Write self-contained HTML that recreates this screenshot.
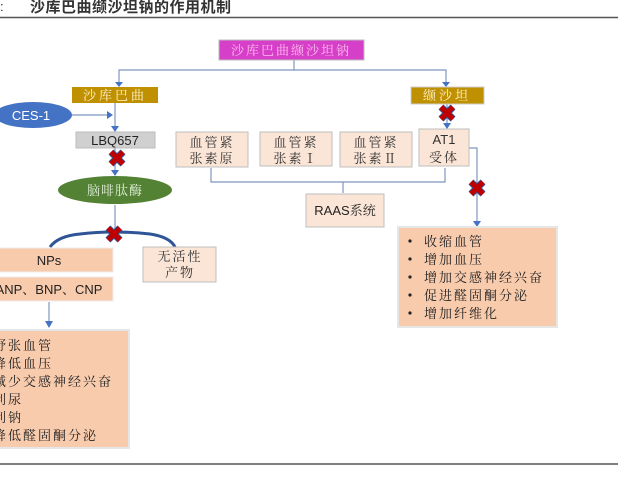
<!DOCTYPE html>
<html><head><meta charset="utf-8"><style>
html,body{margin:0;padding:0;background:#fff;}
svg{display:block;}
text{font-family:"Liberation Sans","Noto Serif CJK SC","Noto Sans CJK SC",sans-serif;}
.s{font-family:"Noto Serif CJK SC","Liberation Sans",serif;}
.t{font-family:"Noto Sans CJK SC",sans-serif;font-weight:bold;}
</style></head><body>
<svg width="618" height="480" viewBox="0 0 618 480" xmlns="http://www.w3.org/2000/svg">
<defs>
<g id="x"><path d="M-6,-6 L6,6 M6,-6 L-6,6" stroke="#2f4f8f" stroke-width="7"/><path d="M-6,-6 L6,6 M6,-6 L-6,6" stroke="#c00000" stroke-width="5"/></g>
</defs>
<text x="0" y="11" font-size="13" fill="#333">:</text>
<text class="t" x="30" y="12" font-size="15" fill="#333" letter-spacing="0.5">沙库巴曲缬沙坦钠的作用机制</text>
<line x1="0" y1="17.5" x2="618" y2="17.5" stroke="#555" stroke-width="1.5"/>
<line x1="0" y1="464" x2="618" y2="464" stroke="#555" stroke-width="1.5"/>

<g stroke="#7f96c0" stroke-width="1.2" fill="none">
<polyline points="294,60 294,70 119,70 119,85"/>
<polyline points="294,70 446,70 446,85"/>
<line x1="115" y1="103" x2="115" y2="130"/>
<line x1="72" y1="115" x2="111" y2="115"/>
<line x1="115" y1="148" x2="115" y2="174"/>
<line x1="115" y1="205" x2="115" y2="232"/>
<line x1="49" y1="302" x2="49" y2="325"/>
<line x1="447" y1="104" x2="447" y2="127"/>
<polyline points="469,148 477,148 477,223"/>
<polyline points="211,168 211,182 445,182 445,168"/>
<line x1="343" y1="182" x2="343" y2="193"/>
</g>
<g fill="#4472c4">
<path d="M119,87 l-4,-5 h8z"/>
<path d="M446,87 l-4,-5 h8z"/>
<path d="M113,115 l-6,-4 v8z"/>
<path d="M115,132 l-4,-6 h8z"/>
<path d="M115,176 l-4,-6 h8z"/>
<path d="M49,328 l-4,-7 h8z"/>
<path d="M447,129 l-4,-6 h8z"/>
<path d="M477,227 l-4,-6 h8z"/>
</g>
<path d="M50,247 Q58,236 80,234 Q113,230 150,234 Q170,237 175,247" stroke="#2f5597" stroke-width="3" fill="none"/>

<rect x="219" y="40" width="145" height="20" fill="#d63fc8" stroke="#bbb"/>
<text class="s" x="291" y="55" font-size="13" fill="#fbe" text-anchor="middle" letter-spacing="2">沙库巴曲缬沙坦钠</text>
<rect x="72" y="87" width="86" height="16" fill="#bf9000"/>
<text class="s" x="115" y="100" font-size="13" fill="#fff2cc" text-anchor="middle" letter-spacing="3">沙库巴曲</text>
<rect x="411" y="87" width="73" height="17" fill="#bf9000" stroke="#ccc"/>
<text class="s" x="447" y="100" font-size="13" fill="#fff2cc" text-anchor="middle" letter-spacing="3">缬沙坦</text>
<ellipse cx="33" cy="115" rx="39" ry="13" fill="#4472c4"/>
<text x="31" y="120" font-size="13" fill="#fff" text-anchor="middle">CES-1</text>
<rect x="76" y="132" width="79" height="16" fill="#d0d0d0" stroke="#bbb"/>
<text x="115" y="145" font-size="13" fill="#222" text-anchor="middle">LBQ657</text>
<ellipse cx="115" cy="190" rx="57" ry="14" fill="#548235"/>
<text class="s" x="115" y="195" font-size="13" fill="#e2efda" text-anchor="middle" letter-spacing="1">脑啡肽酶</text>

<g fill="#fbe5d6" stroke="#bfbfbf">
<rect x="176" y="132" width="72" height="35"/>
<rect x="260" y="132" width="72" height="34"/>
<rect x="340" y="132" width="72" height="35"/>
<rect x="419" y="129" width="50" height="37"/>
<rect x="306" y="194" width="78" height="33"/>
<rect x="143" y="247" width="73" height="35"/>
</g>
<g class="s" font-size="13" fill="#333" text-anchor="middle" letter-spacing="2">
<text x="212" y="147">血管紧</text><text x="212" y="163">张素原</text>
<text x="296" y="147">血管紧</text><text x="296" y="163">张素Ⅰ</text>
<text x="376" y="147">血管紧</text><text x="376" y="163">张素Ⅱ</text>
<text x="444" y="144" style="font-family:'Liberation Sans',sans-serif" letter-spacing="0">AT1</text><text x="444" y="162">受体</text>
<text x="180" y="261">无活性</text><text x="180" y="277">产物</text>
</g>
<text x="345" y="215" font-size="13" fill="#222" text-anchor="middle">RAAS<tspan class="s">系统</tspan></text>

<rect x="-1" y="248" width="114" height="24" fill="#f8cbad" stroke="#eee"/>
<rect x="-1" y="277" width="114" height="24" fill="#f8cbad" stroke="#eee"/>
<text x="49" y="265" font-size="13" fill="#222" text-anchor="middle">NPs</text>
<text x="49" y="294" font-size="13" fill="#222" text-anchor="middle">ANP、BNP、CNP</text>

<rect x="-1" y="330" width="130" height="118" fill="#f8cbad" stroke="#e6e6e6" stroke-width="2"/>
<g class="s" font-size="13" fill="#222" letter-spacing="2">
<text x="-7" y="350">舒张血管</text>
<text x="-7" y="368">降低血压</text>
<text x="-7" y="386">减少交感神经兴奋</text>
<text x="-7" y="404">利尿</text>
<text x="-7" y="422">利钠</text>
<text x="-7" y="440">降低醛固酮分泌</text>
</g>

<rect x="398" y="227" width="159" height="100" fill="#f8cbad" stroke="#e6e6e6" stroke-width="2"/>
<g class="s" font-size="13" fill="#222" letter-spacing="2">
<text x="424" y="246">收缩血管</text>
<text x="424" y="264">增加血压</text>
<text x="424" y="282">增加交感神经兴奋</text>
<text x="424" y="300">促进醛固酮分泌</text>
<text x="424" y="318">增加纤维化</text>
</g>
<g fill="#222">
<circle cx="410" cy="241" r="1.6"/><circle cx="410" cy="259" r="1.6"/><circle cx="410" cy="277" r="1.6"/><circle cx="410" cy="295" r="1.6"/><circle cx="410" cy="313" r="1.6"/>
</g>

<use href="#x" x="117" y="158"/>
<use href="#x" x="114" y="234"/>
<use href="#x" x="447" y="113"/>
<use href="#x" x="477" y="188"/>
</svg>
</body></html>
